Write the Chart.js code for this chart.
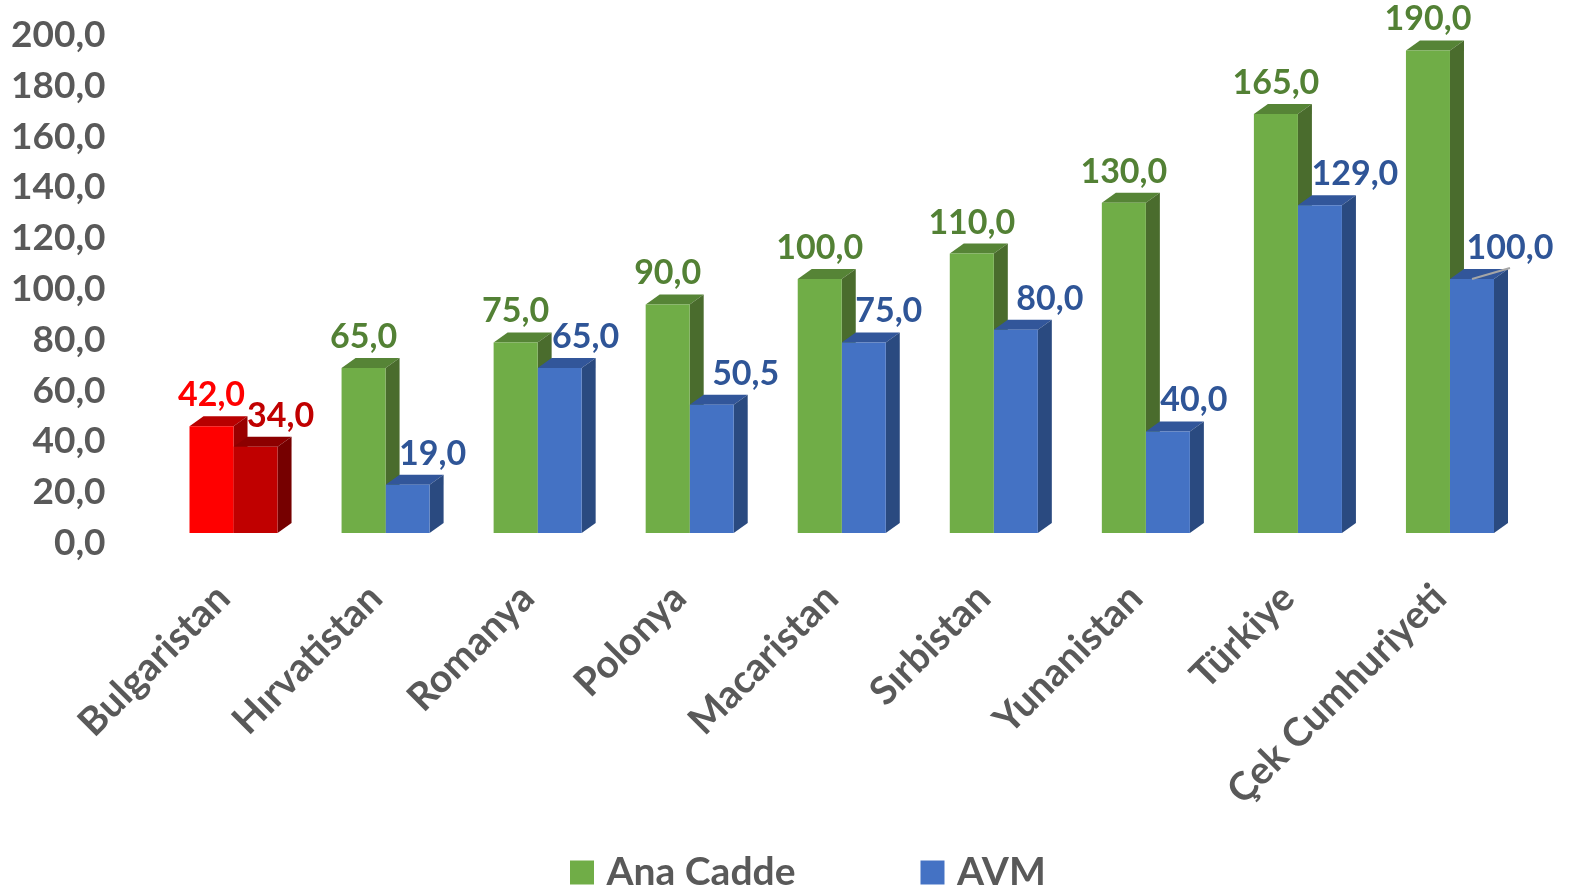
<!DOCTYPE html>
<html>
<head>
<meta charset="utf-8">
<style>
  html, body { margin: 0; padding: 0; background: #fff; }
  #wrap { width: 1569px; height: 890px; }
</style>
<script src="https://cdn.jsdelivr.net/npm/chart.js@4"></script>
</head>
<body>
<div id="wrap"><canvas id="chart"></canvas></div>
<script>
const categories = ['Bulgaristan', 'Hırvatistan', 'Romanya', 'Polonya', 'Macaristan', 'Sırbistan', 'Yunanistan', 'Türkiye', 'Çek Cumhuriyeti'];
const anaCadde = [42, 65, 75, 90, 100, 110, 130, 165, 190];
const avm = [34, 19, 65, 50.5, 75, 80, 40, 129, 100];

// sideways shift of the AVM labels so they clear the green bars
const avmLabelShift = [25, 25, 26, 34, 25, 34, 26, 35, 38];

const FONT = 'Lato, Carlito, sans-serif';
const DEPTH_X = 14;
const DEPTH_Y = 10;

const GREEN = { front: '#70ad47', top: '#568436', side: '#4a6c2d', text: '#538135' };
const BLUE = { front: '#4472c4', top: '#32569a', side: '#2a4a80', text: '#2f5597' };
const RED = { front: '#ff0000', top: '#b80000', side: '#990000', text: '#ff0000' };
const DARKRED = { front: '#c00000', top: '#8c0000', side: '#760000', text: '#c00000' };

// first category is highlighted in red
const paletteFor = (datasetIndex, i) => {
    if (i === 0) return datasetIndex === 0 ? RED : DARKRED;
    return datasetIndex === 0 ? GREEN : BLUE;
};

const formatTr = (v) => v.toFixed(1).replace('.', ',');

function drawDepth(chart, datasetIndex) {
    const ctx = chart.ctx;
    chart.getDatasetMeta(datasetIndex).data.forEach((bar, i) => {
        const p = paletteFor(datasetIndex, i);
        const right = bar.x + bar.width / 2;
        const left = bar.x - bar.width / 2;
        ctx.fillStyle = p.top;
        ctx.beginPath();
        ctx.moveTo(left, bar.y);
        ctx.lineTo(left + DEPTH_X, bar.y - DEPTH_Y);
        ctx.lineTo(right + DEPTH_X, bar.y - DEPTH_Y);
        ctx.lineTo(right, bar.y);
        ctx.closePath();
        ctx.fill();
        ctx.fillStyle = p.side;
        ctx.beginPath();
        ctx.moveTo(right, bar.y);
        ctx.lineTo(right + DEPTH_X, bar.y - DEPTH_Y);
        ctx.lineTo(right + DEPTH_X, bar.base - DEPTH_Y);
        ctx.lineTo(right, bar.base);
        ctx.closePath();
        ctx.fill();
    });
}

const bars3d = {
    id: 'bars3d',
    beforeDatasetsDraw(chart) {
        chart.ctx.save();
        chart.ctx.translate(0, -DEPTH_Y); // front faces stand on the back edge of the floor
    },
    beforeDatasetDraw(chart, args) {
        // AVM is drawn first, so both depth layers go in here, green underneath
        if (args.index === 1) {
            drawDepth(chart, 0);
            drawDepth(chart, 1);
        }
    },
    afterDatasetsDraw(chart) {
        const ctx = chart.ctx;
        ctx.restore();
        // value labels
        ctx.save();
        ctx.font = 'bold 34px ' + FONT;
        ctx.textAlign = 'center';
        ctx.textBaseline = 'middle';
        chart.data.datasets.forEach((ds, d) => {
            chart.getDatasetMeta(d).data.forEach((bar, i) => {
                const shift = d === 1 ? avmLabelShift[i] : 0;
                ctx.fillStyle = paletteFor(d, i).text;
                ctx.fillText(formatTr(ds.data[i]), bar.x + shift, bar.y - DEPTH_Y - 31);
            });
        });
        // leader line of the last AVM label
        const last = chart.getDatasetMeta(1).data[avm.length - 1];
        ctx.strokeStyle = '#a6a6a6';
        ctx.lineWidth = 2;
        ctx.beginPath();
        ctx.moveTo(last.x, last.y - DEPTH_Y);
        ctx.lineTo(last.x + 38, last.y - DEPTH_Y - 11);
        ctx.stroke();
        ctx.restore();
    },
    afterLayout(chart) {
        // legend keeps its wide gap between items without taking that much height
        chart.legend.left = 445;
        chart.legend.top = 721;
        chart.scales.x.bottom = chart.height; // long rotated labels run past the axis box
    }
};

new Chart(document.getElementById('chart'), {
    type: 'bar',
    plugins: [bars3d],
    data: {
        labels: categories,
        datasets: [
            {
                label: 'Ana Cadde',
                data: anaCadde,
                clip: false,
                backgroundColor: categories.map((c, i) => paletteFor(0, i).front)
            },
            {
                label: 'AVM',
                data: avm,
                clip: false,
                backgroundColor: categories.map((c, i) => paletteFor(1, i).front)
            }
        ]
    },
    options: {
        responsive: true,
        maintainAspectRatio: false,
        animation: false,
        layout: { padding: { top: 0, right: 43, left: 0, bottom: 0 } },
        datasets: {
            bar: { categoryPercentage: 0.579, barPercentage: 1 }
        },
        scales: {
            x: {
                grid: { display: false, drawTicks: false },
                border: { display: false },
                ticks: {
                    autoSkip: false,
                    minRotation: 45,
                    maxRotation: 45,
                    padding: 32,
                    labelOffset: -10,
                    color: '#595959',
                    font: { family: FONT, size: 39, weight: 'bold' }
                },
                afterFit: (scale) => { scale.height = 166; }
            },
            y: {
                min: 0,
                max: 200,
                grid: { display: false, drawTicks: false },
                border: { display: false },
                ticks: {
                    autoSkip: false,
                    stepSize: 20,
                    padding: 52,
                    color: '#595959',
                    font: { family: FONT, size: 37, weight: 'bold' },
                    callback: (v) => formatTr(v)
                },
                afterFit: (scale) => {
                    scale.width = 157.5;
                    scale.paddingTop = 35; // tick padding would otherwise push the plot down
                    scale.paddingBottom = 0;
                }
            }
        },
        plugins: {
            tooltip: { enabled: false },
            legend: {
                position: 'bottom',
                align: 'start',
                labels: {
                    color: '#595959',
                    font: { family: FONT, size: 39, weight: 'bold' },
                    boxWidth: 10,
                    boxHeight: 10,
                    padding: 132,
                    generateLabels: (chart) => chart.data.datasets.map((ds, i) => ({
                        text: ds.label,
                        fillStyle: i === 0 ? GREEN.front : BLUE.front,
                        strokeStyle: i === 0 ? GREEN.front : BLUE.front,
                        lineWidth: 14,
                        fontColor: '#595959',
                        datasetIndex: i
                    }))
                }
            }
        }
    }
});
</script>
</body>
</html>
